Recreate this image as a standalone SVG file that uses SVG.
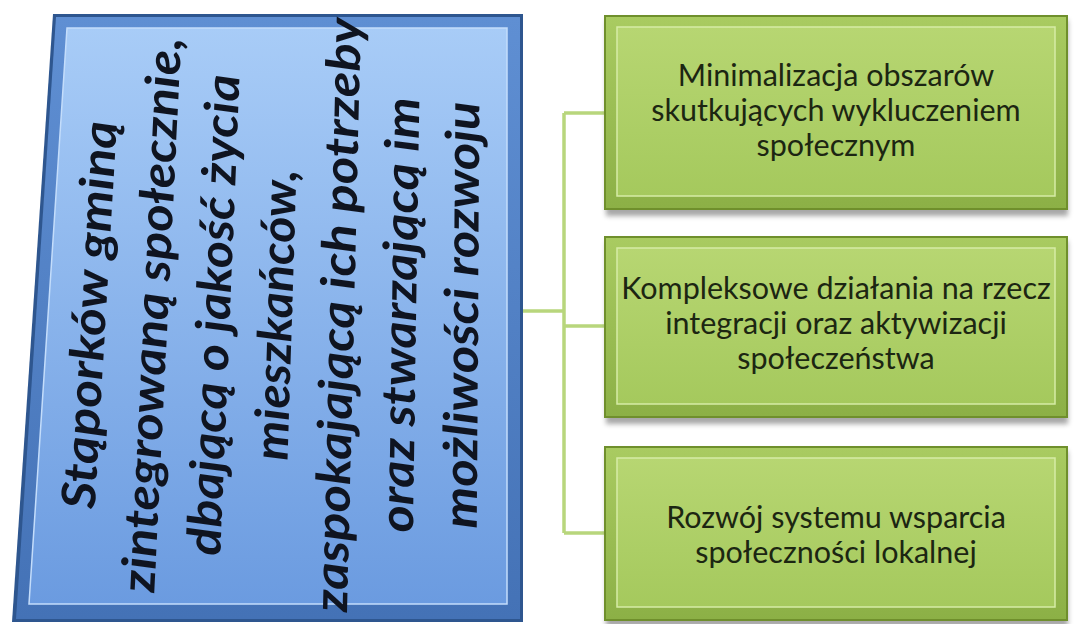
<svg xmlns="http://www.w3.org/2000/svg" width="1080" height="624" viewBox="0 0 1080 624">
<defs>
  <linearGradient id="blueFill" x1="0" y1="0" x2="0" y2="1">
    <stop offset="0" stop-color="#a8ccf7"/>
    <stop offset="1" stop-color="#6b9be0"/>
  </linearGradient>
  <linearGradient id="blueBand" x1="0" y1="0" x2="0" y2="1">
    <stop offset="0" stop-color="#5f8fd3"/>
    <stop offset="1" stop-color="#4472b6"/>
  </linearGradient>
  <linearGradient id="greenFill" x1="0" y1="0" x2="0" y2="1">
    <stop offset="0" stop-color="#b7d672"/>
    <stop offset="1" stop-color="#a5c95d"/>
  </linearGradient>
  <linearGradient id="greenBand" x1="0" y1="0" x2="0" y2="1">
    <stop offset="0" stop-color="#a9cb61"/>
    <stop offset="1" stop-color="#8cb046"/>
  </linearGradient>
  <filter id="shadow" x="-5%" y="-10%" width="110%" height="130%">
    <feGaussianBlur stdDeviation="2.5"/>
  </filter>
  <style>
    .outerB { fill: #2e568f; }
    .bandB { fill: url(#blueBand); }
    .innerB { fill: url(#blueFill); stroke: #c4ddfb; stroke-width: 1.5; }
    .outerG { fill: #6f8f2c; }
    .bandG { fill: url(#greenBand); }
    .innerG { fill: url(#greenFill); stroke: #d6eba6; stroke-width: 1.5; }
    .shadowG { fill: #5e5e5e; opacity: 0.55; filter: url(#shadow); }
    .conn { fill: none; stroke: #b8d67c; stroke-width: 3.5; }
    .mainText { font-family: Lato, "Liberation Sans", sans-serif; font-weight: bold; font-style: italic; font-size: 47px; fill: #0f1420; text-anchor: middle; }
    .boxText { font-family: Lato, "Liberation Sans", sans-serif; font-size: 30.5px; fill: #1c2612; text-anchor: middle; }
  </style>
</defs>
<rect width="1080" height="624" fill="#ffffff"/>

<g id="connectors">
  <path class="conn" d="M523,311 H564 M564,113 V533 M564,113 H604 M564,326 H604 M564,533 H604"/>
</g>

<g id="main-node">
  <polygon class="outerB" points="53,14 523,14 523,622 12,622"/>
  <polygon class="bandB" points="56,17 520,17 520,619 16,619"/>
  <polygon class="innerB" points="67,28 507,28 507,604 29,604"/>
  <g class="mainText">
    <text transform="translate(105.8,315) skewX(-3.28) rotate(-90)" textLength="388" lengthAdjust="spacingAndGlyphs">Stąporków gminą</text>
    <text transform="translate(167.8,315) skewX(-2.79) rotate(-90)" textLength="555" lengthAdjust="spacingAndGlyphs">zintegrowaną społecznie,</text>
    <text transform="translate(229.9,315) skewX(-2.31) rotate(-90)" textLength="481" lengthAdjust="spacingAndGlyphs">dbającą o jakość życia</text>
    <text transform="translate(292,315) skewX(-1.82) rotate(-90)" textLength="291" lengthAdjust="spacingAndGlyphs">mieszkańców,</text>
    <text transform="translate(354,315) skewX(-1.33) rotate(-90)" textLength="594" lengthAdjust="spacingAndGlyphs">zaspokajającą ich potrzeby</text>
    <text transform="translate(416.1,315) skewX(-0.84) rotate(-90)" textLength="435" lengthAdjust="spacingAndGlyphs">oraz stwarzającą im</text>
    <text transform="translate(478.1,315) skewX(-0.35) rotate(-90)" textLength="427" lengthAdjust="spacingAndGlyphs">możliwości rozwoju</text>
  </g>
</g>

<g id="node-1">
  <rect class="shadowG" x="606" y="20" width="462" height="196"/>
  <rect class="outerG" x="604" y="15" width="464" height="195"/>
  <rect class="bandG" x="606" y="17" width="460" height="191"/>
  <rect class="innerG" x="617" y="27" width="438" height="169"/>
  <text class="boxText"><tspan x="836" y="86">Minimalizacja obszarów</tspan><tspan x="836" y="121">skutkujących wykluczeniem</tspan><tspan x="836" y="156">społecznym</tspan></text>
</g>

<g id="node-2">
  <rect class="shadowG" x="606" y="241" width="462" height="183"/>
  <rect class="outerG" x="604" y="236" width="464" height="182"/>
  <rect class="bandG" x="606" y="238" width="460" height="178"/>
  <rect class="innerG" x="617" y="248" width="438" height="156"/>
  <text class="boxText"><tspan x="836" y="299">Kompleksowe działania na rzecz</tspan><tspan x="836" y="334">integracji oraz aktywizacji</tspan><tspan x="836" y="369">społeczeństwa</tspan></text>
</g>

<g id="node-3">
  <rect class="shadowG" x="606" y="451" width="462" height="176"/>
  <rect class="outerG" x="604" y="446" width="464" height="175"/>
  <rect class="bandG" x="606" y="448" width="460" height="171"/>
  <rect class="innerG" x="617" y="458" width="438" height="149"/>
  <text class="boxText"><tspan x="836" y="528">Rozwój systemu wsparcia</tspan><tspan x="836" y="563">społeczności lokalnej</tspan></text>
</g>
</svg>
